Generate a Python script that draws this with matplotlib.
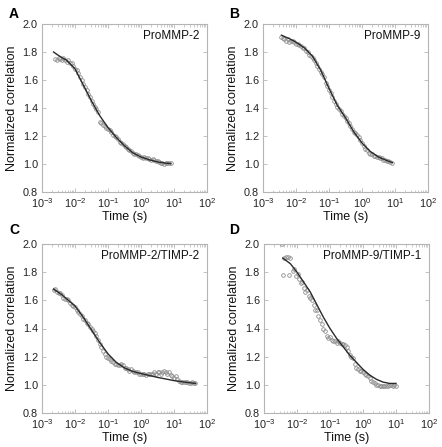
import numpy as np
import matplotlib
matplotlib.use("Agg")
import matplotlib.pyplot as plt
from matplotlib.ticker import LogLocator, NullFormatter

plt.rcParams['font.family'] = ['Liberation Sans', 'DejaVu Sans']
plt.rcParams['mathtext.fontset'] = 'custom'
plt.rcParams['mathtext.rm'] = 'Liberation Sans'
plt.rcParams['mathtext.it'] = 'Liberation Sans'

# ---------------- data (log10 of time in s, normalized correlation) -------------
titles = ["ProMMP-2", "ProMMP-9", "ProMMP-2/TIMP-2", "ProMMP-9/TIMP-1"]
panel_letters = ["A", "B", "C", "D"]

a_log_t = [-2.60, -2.55, -2.50, -2.45, -2.40, -2.35, -2.30, -2.25, -2.20, -2.15, -2.10, -2.05,
           -2.00, -1.95, -1.90, -1.85, -1.80, -1.75, -1.70, -1.65, -1.60, -1.55, -1.50, -1.45,
           -1.40, -1.35, -1.30, -1.25, -1.20, -1.15, -1.10, -1.05, -1.00, -0.95, -0.90, -0.85,
           -0.80, -0.75, -0.70, -0.65, -0.60, -0.55, -0.50, -0.45, -0.40, -0.35, -0.30, -0.25,
           -0.20, -0.15, -0.10, -0.05, 0.00, 0.05, 0.10, 0.15, 0.20, 0.25, 0.30, 0.35, 0.40,
           0.45, 0.50, 0.55, 0.60, 0.65, 0.70, 0.75, 0.80, 0.85, 0.90]
a_vals = [1.75, 1.74, 1.76, 1.75, 1.74, 1.76, 1.74, 1.73, 1.74, 1.72, 1.72, 1.70,
          1.68, 1.67, 1.65, 1.62, 1.60, 1.57, 1.55, 1.53, 1.50, 1.48, 1.45, 1.43,
          1.41, 1.39, 1.37, 1.30, 1.29, 1.28, 1.27, 1.26, 1.25, 1.24, 1.23, 1.21,
          1.20, 1.19, 1.18, 1.16, 1.15, 1.14, 1.13, 1.12, 1.11, 1.10, 1.09, 1.08,
          1.075, 1.07, 1.065, 1.06, 1.05, 1.045, 1.05, 1.045, 1.04, 1.035, 1.03, 1.035, 1.03,
          1.025, 1.02, 1.015, 1.01, 1.005, 1.00, 1.005, 1.01, 1.01, 1.005]
a_fit_log_t = [-2.65, -2.5, -2.25, -2.0, -1.75, -1.5, -1.25, -1.0, -0.75, -0.5, -0.25,
               0.0, 0.25, 0.5, 0.75, 0.9]
a_fit = [1.80, 1.775, 1.74, 1.68, 1.565, 1.45, 1.345, 1.26, 1.19, 1.13, 1.08,
         1.05, 1.03, 1.015, 1.006, 1.003]

b_log_t = [-2.45, -2.40, -2.35, -2.30, -2.25, -2.20, -2.15, -2.10, -2.05, -2.00, -1.95, -1.90,
           -1.85, -1.80, -1.75, -1.70, -1.65, -1.60, -1.55, -1.50, -1.45, -1.40, -1.35, -1.30,
           -1.25, -1.20, -1.15, -1.10, -1.05, -1.00, -0.95, -0.90, -0.85, -0.80, -0.75, -0.70,
           -0.65, -0.60, -0.55, -0.50, -0.45, -0.40, -0.35, -0.30, -0.25, -0.20, -0.15, -0.10,
           -0.05, 0.00, 0.05, 0.10, 0.15, 0.20, 0.25, 0.30, 0.35, 0.40, 0.45, 0.50, 0.55,
           0.60, 0.65, 0.70, 0.75, 0.80, 0.85, 0.90]
b_vals = [1.91, 1.90, 1.89, 1.88, 1.89, 1.87, 1.88, 1.88, 1.87, 1.86, 1.86, 1.85,
          1.84, 1.83, 1.83, 1.81, 1.80, 1.78, 1.77, 1.76, 1.74, 1.72, 1.70, 1.68,
          1.66, 1.64, 1.62, 1.58, 1.56, 1.53, 1.51, 1.48, 1.45, 1.43, 1.41, 1.39,
          1.38, 1.36, 1.34, 1.33, 1.31, 1.29, 1.27, 1.25, 1.23, 1.22, 1.21, 1.19,
          1.17, 1.15, 1.13, 1.11, 1.10, 1.08, 1.07, 1.07, 1.06, 1.06, 1.05, 1.05, 1.04,
          1.04, 1.03, 1.03, 1.025, 1.02, 1.015, 1.01]
b_fit_log_t = [-2.44, -2.2, -2.0, -1.75, -1.5, -1.25, -1.0, -0.75, -0.5, -0.25, 0.0,
               0.25, 0.5, 0.75, 0.92]
b_fit = [1.92, 1.895, 1.87, 1.83, 1.77, 1.67, 1.54, 1.42, 1.33, 1.23, 1.15,
         1.09, 1.05, 1.025, 1.01]

c_log_t = [-2.65, -2.60, -2.55, -2.50, -2.45, -2.40, -2.35, -2.30, -2.25, -2.20, -2.15, -2.10,
           -2.05, -2.00, -1.95, -1.90, -1.85, -1.80, -1.75, -1.70, -1.65, -1.60, -1.55, -1.50,
           -1.45, -1.40, -1.35, -1.30, -1.25, -1.20, -1.15, -1.10, -1.05, -1.00, -0.95, -0.90,
           -0.85, -0.80, -0.75, -0.70, -0.65, -0.60, -0.55, -0.50, -0.45, -0.40, -0.35, -0.30,
           -0.25, -0.20, -0.15, -0.10, -0.05, 0.00, 0.05, 0.10, 0.15, 0.20, 0.25, 0.30, 0.35,
           0.40, 0.45, 0.50, 0.55, 0.60, 0.65, 0.70, 0.75, 0.80, 0.85, 0.90, 0.95, 1.00,
           1.05, 1.10, 1.15, 1.20, 1.25, 1.30, 1.35, 1.40, 1.45, 1.50, 1.55, 1.60, 1.65]
c_vals = [1.67, 1.68, 1.66, 1.65, 1.65, 1.64, 1.62, 1.61, 1.61, 1.60, 1.58, 1.57,
          1.56, 1.55, 1.53, 1.52, 1.50, 1.49, 1.47, 1.46, 1.44, 1.43, 1.41, 1.40,
          1.38, 1.37, 1.35, 1.32, 1.29, 1.27, 1.24, 1.22, 1.20, 1.19, 1.18, 1.17,
          1.16, 1.15, 1.15, 1.14, 1.14, 1.15, 1.14, 1.12, 1.12, 1.11, 1.10, 1.11,
          1.10, 1.09, 1.09, 1.09, 1.08, 1.08, 1.08, 1.08, 1.07, 1.08, 1.08, 1.08, 1.08,
          1.09, 1.08, 1.09, 1.09, 1.08, 1.09, 1.10, 1.09, 1.08, 1.09, 1.07, 1.06, 1.05,
          1.06, 1.04, 1.03, 1.02, 1.02, 1.02, 1.02, 1.02, 1.01, 1.01, 1.02, 1.01, 1.01]
c_fit_log_t = [-2.65, -2.4, -2.15, -2.0, -1.75, -1.5, -1.25, -1.0, -0.75, -0.5, -0.25,
               0.0, 0.5, 1.0, 1.3, 1.65]
c_fit = [1.68, 1.64, 1.59, 1.56, 1.48, 1.39, 1.30, 1.22, 1.16, 1.12, 1.095,
         1.08, 1.053, 1.03, 1.02, 1.01]

d_log_t = [-2.45, -2.42, -2.38, -2.33, -2.28, -2.25, -2.20, -2.12, -2.08, -2.03, -1.98, -1.93,
           -1.88, -1.84, -1.80, -1.75, -1.70, -1.65, -1.60, -1.55, -1.50, -1.45, -1.40, -1.35,
           -1.30, -1.25, -1.20, -1.15, -1.10, -1.05, -1.00, -0.95, -0.90, -0.85, -0.80, -0.75,
           -0.70, -0.65, -0.60, -0.55, -0.50, -0.45, -0.40, -0.35, -0.30, -0.25, -0.20, -0.15,
           -0.10, -0.05, 0.00, 0.05, 0.10, 0.15, 0.20, 0.25, 0.30, 0.35, 0.40, 0.45, 0.50,
           0.55, 0.60, 0.65, 0.70, 0.75, 0.80, 0.85, 0.90, 0.95, 1.00]
d_vals = [2.00, 1.78, 1.90, 1.91, 1.91, 1.78, 1.90, 1.81, 1.82, 1.77, 1.79, 1.75,
          1.72, 1.73, 1.69, 1.66, 1.67, 1.63, 1.62, 1.60, 1.57, 1.53, 1.53, 1.49,
          1.46, 1.43, 1.40, 1.38, 1.35, 1.33, 1.34, 1.32, 1.31, 1.31, 1.30, 1.31,
          1.30, 1.29, 1.29, 1.28, 1.27, 1.24, 1.21, 1.20, 1.19, 1.15, 1.12, 1.11,
          1.10, 1.10, 1.09, 1.08, 1.07, 1.06, 1.05, 1.03, 1.02, 1.01, 1.00, 1.00, 0.995,
          0.99, 0.995, 0.99, 0.99, 0.995, 1.00, 1.00, 0.995, 1.00, 0.99]
d_fit_log_t = [-2.43, -2.2, -2.0, -1.8, -1.6, -1.4, -1.2, -1.0, -0.8, -0.6, -0.4, -0.2,
               0.0, 0.2, 0.4, 0.6, 0.8, 1.0]
d_fit = [1.90, 1.86, 1.80, 1.73, 1.66, 1.57, 1.48, 1.40, 1.33, 1.27, 1.21, 1.16,
         1.11, 1.07, 1.04, 1.02, 1.01, 1.01]

y_ticks = [0.8, 1.0, 1.2, 1.4, 1.6, 1.8, 2.0]
x_label = "Time (s)"
y_label = "Normalized correlation"

points = [(a_log_t, a_vals), (b_log_t, b_vals), (c_log_t, c_vals), (d_log_t, d_vals)]
fits = [(a_fit_log_t, a_fit), (b_fit_log_t, b_fit), (c_fit_log_t, c_fit), (d_fit_log_t, d_fit)]

# ---------------- layout ----------------
W, H = 442, 447
fig = plt.figure(figsize=(W / 100, H / 100), dpi=100)

boxes = [(42, 24, 207, 192), (263, 24, 428, 192), (42, 244, 207, 413), (264, 244, 429, 413)]
letter_pos = [(9, 14), (229, 14), (9, 230), (229, 230)]
spine_col = '#b5b5b5'

for i in range(4):
    l, t, r, b = boxes[i]
    ax = fig.add_axes([l / W, 1 - b / H, (r - l) / W, (b - t) / H])
    lt, v = points[i]
    ax.plot(10 ** np.array(lt), v, linestyle='none', marker='o', markersize=2.6,
            markerfacecolor='none', markeredgecolor='#8c8c8c', markeredgewidth=0.6)
    flt, fv = fits[i]
    ax.plot(10 ** np.array(flt), fv, color='#2a2a2a', lw=1.0)

    ax.set_xscale('log')
    ax.set_xlim(1e-3, 1e2)
    ax.set_ylim(0.8, 2.0)
    ax.set_yticks(y_ticks)
    ax.set_yticklabels([f"{y:.1f}" for y in y_ticks])
    ax.xaxis.set_major_locator(LogLocator(base=10, numticks=10))
    ax.xaxis.set_minor_locator(LogLocator(base=10, subs=np.arange(2, 10), numticks=20))
    ax.xaxis.set_minor_formatter(NullFormatter())
    for s in ax.spines.values():
        s.set_color(spine_col)
        s.set_linewidth(0.8)
    ax.tick_params(which='both', direction='in', top=True, right=True, color=spine_col,
                   labelsize=7.8, labelcolor='#222222', pad=3)
    ax.tick_params(which='major', length=3, width=0.6)
    ax.tick_params(which='minor', length=1.8, width=0.5)
    ax.set_xlabel(x_label, fontsize=9, labelpad=1, color='#111111')
    ax.set_ylabel(y_label, fontsize=9, labelpad=3, color='#111111')
    ax.text(0.952, 0.93, titles[i], transform=ax.transAxes, ha='right', va='center',
            fontsize=8.5, color='#111111')
    fig.text(letter_pos[i][0] / W, 1 - letter_pos[i][1] / H, panel_letters[i],
             fontsize=10, fontweight='bold', ha='left', va='center')

fig.savefig('out.png', dpi=100)
